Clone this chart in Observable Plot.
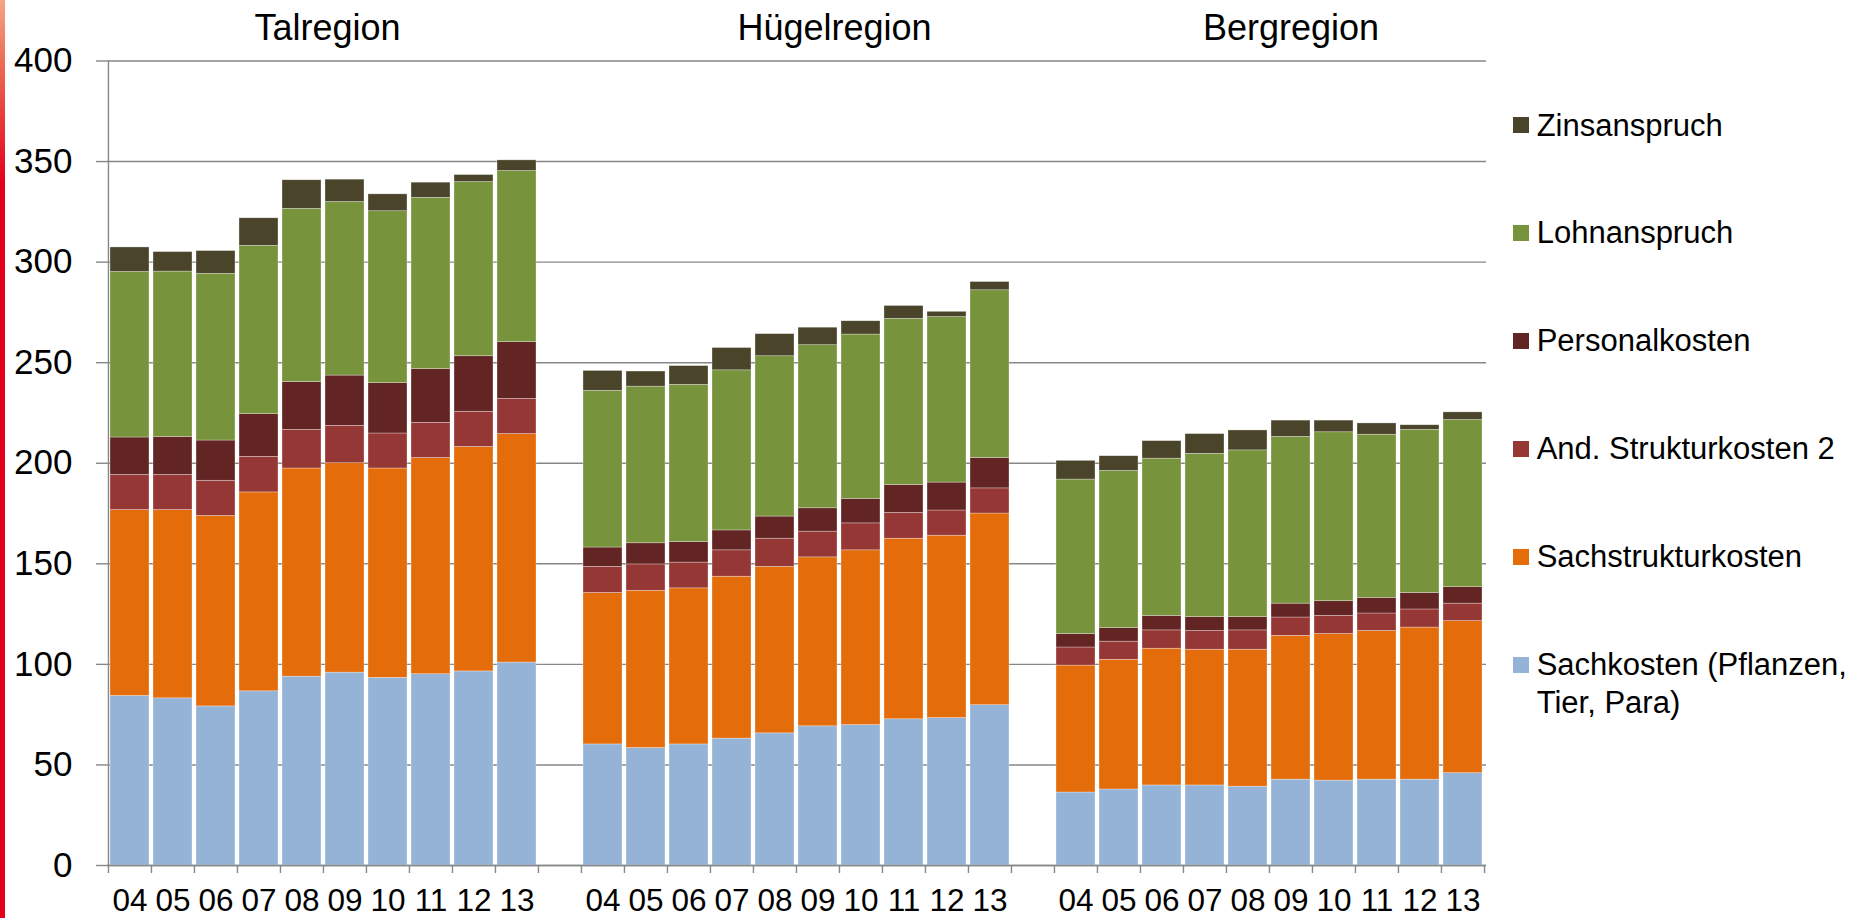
<!DOCTYPE html>
<html>
<head>
<meta charset="utf-8">
<script src="https://cdn.jsdelivr.net/npm/d3@7"></script>
<script src="https://cdn.jsdelivr.net/npm/@observablehq/plot@0.6"></script>
<style>
  html, body { margin: 0; padding: 0; background: #fff; }
  #wrap { position: relative; width: 1857px; height: 918px; overflow: hidden;
          font-family: "Liberation Sans", Arial, sans-serif; }
  #chart { position: absolute; left: 0; top: 0; }
  #strip { position: absolute; left: 0; top: 0; width: 5px; height: 918px;
           background: linear-gradient(to bottom, #f4a585 0%, #ec6a55 7%, #e3001b 20%, #e3001b 100%); }
  #legend { position: absolute; left: 1513px; top: 106.5px; display: flex; flex-direction: column; gap: 70.2px; }
  .item { display: flex; align-items: flex-start; font-size: 31px; line-height: 37.7px; color: #000; }
  .sw { width: 16px; height: 16px; margin-top: 10.8px; margin-right: 7.7px; flex: none; }
  .lab { width: 318px; }
</style>
</head>
<body>
<div id="wrap">
  <div id="chart"></div>
  <div id="legend"></div>
  <div id="strip"></div>
</div>
<script>
// ---------- data ----------
const years = ["04", "05", "06", "07", "08", "09", "10", "11", "12", "13"];
const regions = ["Talregion", "Hügelregion", "Bergregion"];
const seriesNames = [
  "Sachkosten (Pflanzen, Tier, Para)",
  "Sachstrukturkosten",
  "And. Strukturkosten 2",
  "Personalkosten",
  "Lohnanspruch",
  "Zinsanspruch"
];
const seriesColors = ["#95B3D7", "#E46C0A", "#953735", "#632523", "#77933C", "#4A452A"];
const yTicks = [0, 50, 100, 150, 200, 250, 300, 350, 400];

// values: Talregion 04..13, Hügelregion 04..13, Bergregion 04..13
const sachkosten = [
  84.3, 83.1, 79.1, 86.6, 93.9, 95.9, 93.3, 95.1, 96.5, 100.9,
  60.2, 58.4, 60.2, 63.1, 65.7, 69.2, 69.8, 72.7, 73.3, 79.7,
  36.3, 37.8, 39.8, 39.8, 39.2, 42.7, 42.2, 42.7, 42.7, 45.9
];
const sachstrukturkosten = [
  92.4, 93.6, 94.7, 98.9, 103.5, 104.1, 104.1, 107.5, 111.6, 113.6,
  75.3, 78.2, 77.6, 80.5, 82.8, 84.0, 86.9, 89.8, 90.7, 95.3,
  63.1, 64.5, 68.0, 67.5, 68.1, 71.5, 72.9, 73.9, 75.6, 75.6
];
const andStrukturkosten2 = [
  17.5, 17.5, 17.5, 17.7, 19.2, 18.6, 17.4, 17.5, 17.5, 17.5,
  13.0, 13.1, 12.8, 13.1, 14.0, 12.8, 13.4, 12.8, 12.5, 12.5,
  9.0, 9.0, 9.1, 9.3, 9.6, 9.1, 9.0, 8.7, 9.0, 8.7
];
const personalkosten = [
  18.6, 18.9, 20.0, 21.2, 23.8, 25.0, 25.0, 26.7, 27.6, 28.2,
  9.6, 10.5, 10.2, 9.9, 11.0, 11.6, 12.2, 13.9, 13.9, 15.1,
  6.7, 6.7, 7.2, 6.9, 6.6, 6.9, 7.3, 7.8, 8.2, 8.2
];
const lohnanspruch = [
  82.3, 82.2, 82.9, 83.7, 86.1, 86.3, 85.5, 85.2, 86.6, 85.1,
  77.9, 77.9, 78.2, 79.6, 79.7, 81.1, 81.7, 82.6, 82.3, 83.4,
  76.8, 78.2, 78.2, 81.2, 82.9, 82.9, 84.0, 81.1, 81.1, 83.1
];
const zinsanspruch = [
  12.2, 9.7, 11.3, 13.7, 14.2, 11.1, 8.4, 7.5, 3.5, 5.3,
  9.9, 7.5, 9.3, 11.1, 11.0, 8.7, 6.6, 6.4, 2.6, 4.1,
  9.3, 7.3, 8.7, 9.8, 9.9, 8.1, 5.8, 5.6, 2.3, 3.8
];
const seriesValues = [sachkosten, sachstrukturkosten, andStrukturkosten2, personalkosten, lohnanspruch, zinsanspruch];

// ---------- build table ----------
const keyOf = (r, y) => r + "|" + y;
const xDomain = [];
regions.forEach((r, i) => {
  if (i > 0) xDomain.push("gap" + i);
  years.forEach(y => xDomain.push(keyOf(r, y)));
});
const data = [];
regions.forEach((r, ri) => years.forEach((y, yi) => seriesNames.forEach((s, si) => {
  data.push({key: keyOf(r, y), series: s, value: seriesValues[si][ri * years.length + yi]});
})));

// ---------- layout ----------
const W = 1857, H = 918, ML = 107, MR = 371, MT = 60.5, MB = 53;
const step = (W - ML - MR) / xDomain.length;
const grid = "#878787";
const font = "Liberation Sans, Arial, sans-serif";

const titleMark = (region, anchorYear, shift) =>
  Plot.text([region], {
    x: () => keyOf(region, anchorYear), y: () => 400, text: d => d,
    dx: shift, dy: -21.2, lineAnchor: "bottom", textAnchor: "middle",
    fontSize: 36, fill: "#000"
  });

const chart = Plot.plot({
  width: W, height: H,
  marginLeft: ML, marginRight: MR, marginTop: MT, marginBottom: MB,
  style: {fontFamily: font, background: "white", overflow: "visible"},
  x: {type: "band", domain: xDomain, paddingInner: 0.09, paddingOuter: 0.045, align: 0.5, label: null},
  y: {domain: [0, 400], nice: false, label: null},
  color: {domain: seriesNames, range: seriesColors},
  marks: [
    Plot.gridY({ticks: yTicks, stroke: grid, strokeOpacity: 1, strokeWidth: 1.4}),
    Plot.barY(data, {x: "key", y: "value", fill: "series", stroke: "white", strokeWidth: 0.6, strokeOpacity: 0.5}),
    Plot.ruleY([0], {stroke: grid, strokeWidth: 1.4}),
    Plot.ruleX([xDomain[0]], {x: d => d, dx: -step / 2, stroke: grid, strokeWidth: 1.4}),
    Plot.ruleX(xDomain, {x: d => d, y1: () => 0, y2: () => 0, dx: -step / 2, insetBottom: -8, stroke: grid, strokeWidth: 1.4}),
    Plot.ruleX([xDomain[xDomain.length - 1]], {x: d => d, y1: () => 0, y2: () => 0, dx: step / 2, insetBottom: -8, stroke: grid, strokeWidth: 1.4}),
    Plot.axisY({ticks: yTicks, tickSize: 11, tickPadding: 24, fontSize: 35, stroke: grid, strokeWidth: 1.4, label: null, fill: "#000"}),
    Plot.axisX({tickSize: 0, tickPadding: 23.5, fontSize: 31.5, label: null, fill: "#000",
      tickFormat: k => k.startsWith("gap") ? "" : k.split("|")[1]}),
    titleMark(regions[0], "09", -step / 2 + 4),
    titleMark(regions[1], "10", -step / 2 - 5),
    titleMark(regions[2], "09", 0)
  ]
});
document.getElementById("chart").appendChild(chart);

// ---------- legend (top to bottom = reverse stack order) ----------
const legend = document.getElementById("legend");
seriesNames.map((s, i) => ({s, c: seriesColors[i]})).reverse().forEach(({s, c}) => {
  const item = document.createElement("div");
  item.className = "item";
  const sw = document.createElement("div");
  sw.className = "sw";
  sw.style.background = c;
  const lab = document.createElement("div");
  lab.className = "lab";
  lab.textContent = s;
  item.appendChild(sw);
  item.appendChild(lab);
  legend.appendChild(item);
});
</script>
</body>
</html>
